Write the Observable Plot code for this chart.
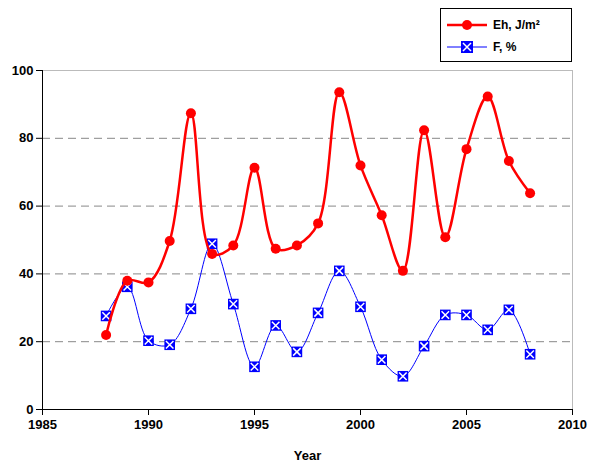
<!DOCTYPE html>
<html><head><meta charset="utf-8">
<script src="https://cdn.jsdelivr.net/npm/d3@7"></script>
<script src="https://cdn.jsdelivr.net/npm/@observablehq/plot@0.6"></script>
<style>
body{margin:0;background:#fff;font-family:"Liberation Sans",Arial,sans-serif;}
#wrap{position:relative;width:589px;height:469px;}
#legend{position:absolute;left:440px;top:8px;width:130px;height:52px;border:1px solid #000;background:#fff;font-weight:bold;font-size:12px;}
.row{position:absolute;left:0;height:16px;display:flex;align-items:center;}
</style></head><body>
<div id="wrap"><div id="chart"></div>
<div id="legend">
<div class="row" style="top:8px"><svg width="52" height="16"><line x1="6" x2="46" y1="8" y2="8" stroke="#f00" stroke-width="2.5"/><circle cx="26" cy="8" r="5" fill="#f00"/></svg><span>Eh, J/m²</span></div>
<div class="row" style="top:30px"><svg width="52" height="16"><line x1="6" x2="46" y1="8" y2="8" stroke="#00f" stroke-width="1"/><rect x="20" y="2" width="12" height="12" fill="#00f"/><path d="M22,4L30,12M30,4L22,12" stroke="#fff" stroke-width="1.5"/></svg><span>F, %</span></div>
</div></div>
<script>
const years=[1988,1989,1990,1991,1992,1993,1994,1995,1996,1997,1998,1999,2000,2001,2002,2003,2004,2005,2006,2007,2008];
const eh=[22,38,37.5,49.7,87.4,45.9,48.4,71.3,47.4,48.4,54.9,93.6,72,57.3,40.9,82.4,50.8,76.8,92.3,73.3,63.8];
const f=[27.6,36.2,20.3,19.1,29.7,48.9,31.1,12.6,24.8,17,28.5,40.9,30.3,14.7,9.8,18.7,27.9,27.9,23.5,29.4,16.3];
const xTicks=[1985,1990,1995,2000,2005,2010];
const yTicks=[0,20,40,60,80,100];
const E=years.map((y,i)=>({y,v:eh[i]}));
const F=years.map((y,i)=>({y,v:f[i]}));
const chart=Plot.plot({
 width:589,height:469,marginLeft:42,marginRight:17,marginTop:70,marginBottom:60,
 style:{fontFamily:"Liberation Sans, Arial, sans-serif",fontSize:"13px",fontWeight:"bold",color:"#000"},
 x:{domain:[1985,2010]},
 y:{domain:[0,100]},
 marks:[
  Plot.frame({stroke:"#bbb"}),
  Plot.gridY([20,40,60,80],{stroke:"#888",strokeOpacity:1,strokeDasharray:"8,5"}),
  Plot.ruleX([1985],{stroke:"#000"}),
  Plot.ruleY([0],{stroke:"#000"}),
  Plot.axisX({ticks:xTicks,tickFormat:d=>String(d),label:"Year",labelAnchor:"center",labelArrow:"none",labelOffset:50,fontSize:13,tickSize:6,tickPadding:4}),
  Plot.axisY({ticks:yTicks,tickSize:6,label:null,fontSize:13}),
  Plot.line(F,{x:"y",y:"v",stroke:"#00f",strokeWidth:1,curve:"catmull-rom"}),
  Plot.dot(F,{x:"y",y:"v",symbol:"square",r:6,fill:"#00f"}),
  Plot.dot(F,{x:"y",y:"v",symbol:"times",r:3.5,stroke:"#fff",strokeWidth:1.5}),
  Plot.line(E,{x:"y",y:"v",stroke:"#f00",strokeWidth:2.5,curve:"catmull-rom"}),
  Plot.dot(E,{x:"y",y:"v",r:5,fill:"#f00"})
 ]
});
document.getElementById("chart").appendChild(chart);
</script></body></html>
